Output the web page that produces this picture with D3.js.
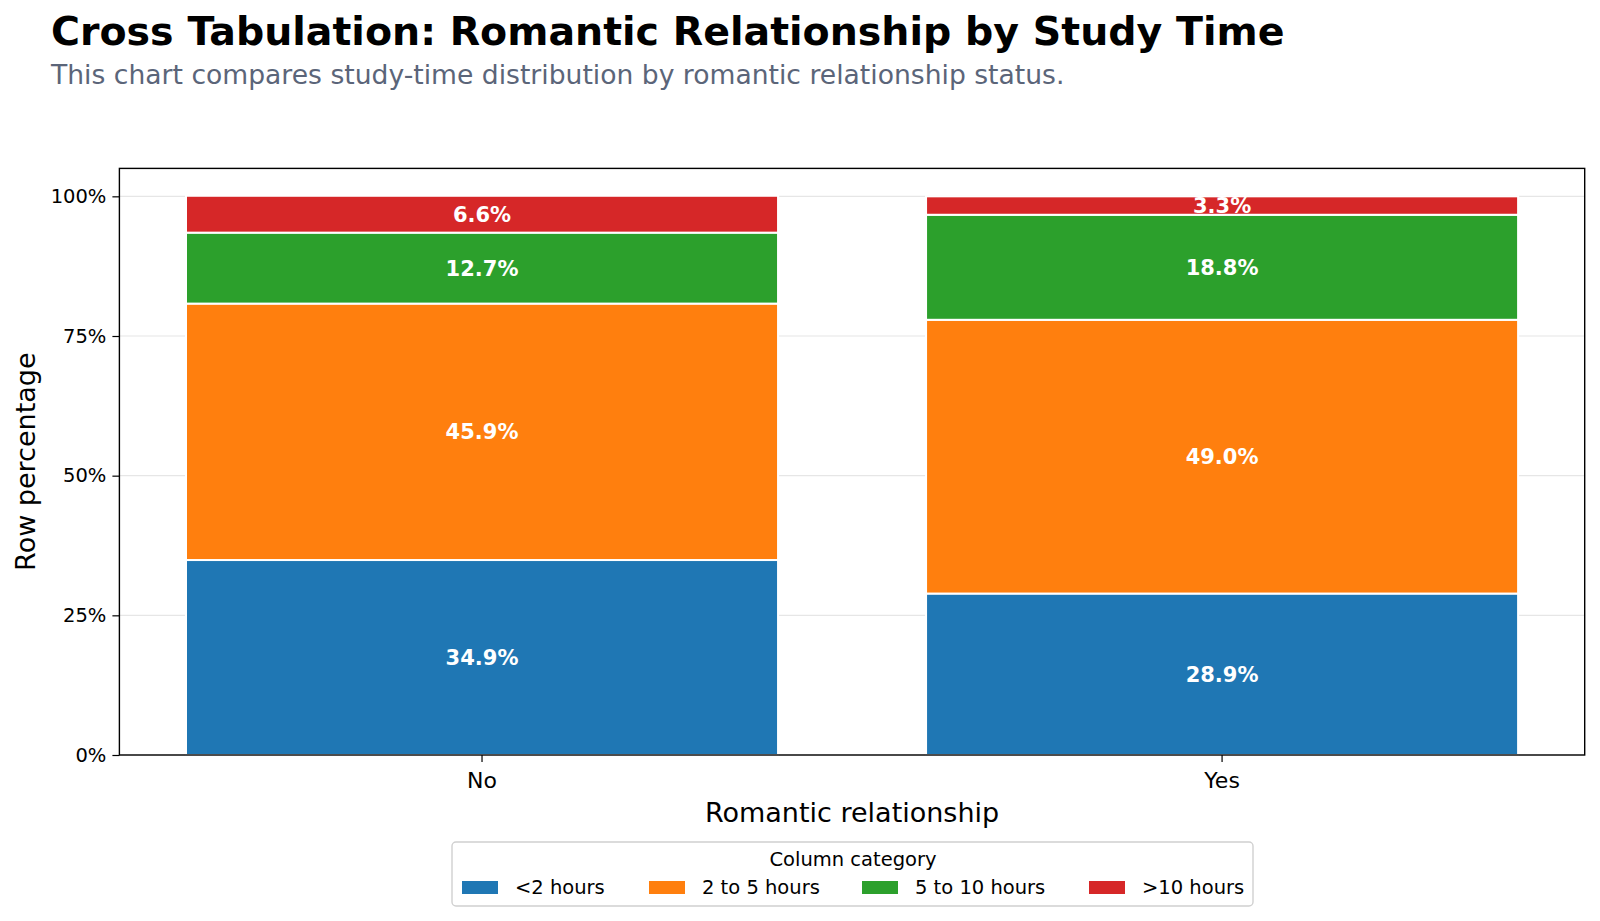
<!DOCTYPE html>
<html>
<head>
<meta charset="utf-8">
<script src="https://cdn.jsdelivr.net/npm/d3@7"></script>
<style>
  body { margin: 0; background: #fff; }
  svg text { font-family: "DejaVu Sans", sans-serif; }
</style>
</head>
<body>
<div id="chart"></div>
<script>
// data
var groups = ["No", "Yes"];
var categories = ["<2 hours", "2 to 5 hours", "5 to 10 hours", ">10 hours"];
var noValues = [34.9, 45.9, 12.7, 6.6];
var yesValues = [28.9, 49.0, 18.8, 3.3];
var colors = ["#1f77b4", "#ff7f0e", "#2ca02c", "#d62728"];
var yTicks = [0, 0.25, 0.5, 0.75, 1];

var svgWidth = 1600;
var svgHeight = 921;

var margin = { top: 168.4, right: 15.3, bottom: 166, left: 119.4 };
var width = svgWidth - margin.left - margin.right;
var height = svgHeight - margin.top - margin.bottom;

var svg = d3.select("#chart")
    .append("svg")
    .attr("width", svgWidth)
    .attr("height", svgHeight);

// build table for the stack
var rows = groups.map(function(g, i) {
    var vals = i === 0 ? noValues : yesValues;
    var row = { group: g };
    categories.forEach(function(c, j) { row[c] = vals[j] / 100; });
    return row;
});

var stacked = d3.stack().keys(categories)(rows);

// scales
var x = d3.scaleBand()
    .domain(groups)
    .range([0, width])
    .paddingInner(0.2)
    .paddingOuter(0.09);

var y = d3.scaleLinear()
    .domain([0, 1.05])
    .range([height, 0]);

var color = d3.scaleOrdinal().domain(categories).range(colors);

// title + subtitle
svg.append("text")
    .attr("x", 51)
    .attr("y", 45)
    .attr("font-size", 39.5)
    .attr("font-weight", "bold")
    .attr("fill", "#000")
    .text("Cross Tabulation: Romantic Relationship by Study Time");

svg.append("text")
    .attr("x", 51)
    .attr("y", 84)
    .attr("font-size", 26.6)
    .attr("fill", "#5b6579")
    .text("This chart compares study-time distribution by romantic relationship status.");

var chartGroup = svg.append("g")
    .attr("transform", `translate(${margin.left}, ${margin.top})`);

// grid
chartGroup.append("g")
    .selectAll("line")
    .data(yTicks)
    .enter()
    .append("line")
    .attr("x1", 0)
    .attr("x2", width)
    .attr("y1", d => y(d))
    .attr("y2", d => y(d))
    .attr("stroke", "#e6e6e6")
    .attr("stroke-width", 1.2);

// bars
var layers = chartGroup.selectAll(".layer")
    .data(stacked)
    .enter()
    .append("g")
    .attr("class", "layer")
    .attr("fill", d => color(d.key));

layers.selectAll("rect")
    .data(d => d)
    .enter()
    .append("rect")
    .attr("x", d => x(d.data.group))
    .attr("width", x.bandwidth())
    .attr("y", d => y(d[1]))
    .attr("height", d => y(d[0]) - y(d[1]))
    .attr("stroke", "#fff")
    .attr("stroke-width", 2);

// segment labels
layers.selectAll("text")
    .data(d => d)
    .enter()
    .append("text")
    .attr("x", d => x(d.data.group) + x.bandwidth() / 2)
    .attr("y", d => (y(d[0]) + y(d[1])) / 2)
    .attr("dy", "0.36em")
    .attr("text-anchor", "middle")
    .attr("font-size", 21)
    .attr("font-weight", "bold")
    .attr("fill", "#fff")
    .text(d => ((d[1] - d[0]) * 100).toFixed(1) + "%");

// axes
var leftAxis = d3.axisLeft(y).tickValues(yTicks).tickFormat(d3.format(".0%")).tickSizeOuter(0).tickSize(7).tickPadding(6);
var bottomAxis = d3.axisBottom(x).tickSizeOuter(0).tickSize(7).tickPadding(10);

var yAxisG = chartGroup.append("g").call(leftAxis);
yAxisG.selectAll("text").attr("font-size", 19.5).attr("fill", "#000");

var xAxisG = chartGroup.append("g")
    .attr("transform", `translate(0, ${height})`)
    .call(bottomAxis);
xAxisG.selectAll("text").attr("font-size", 22).attr("fill", "#000");

[yAxisG, xAxisG].forEach(function(g) {
    g.select(".domain").remove();
    g.selectAll("line").attr("stroke", "#000").attr("stroke-width", 1.2);
    g.selectAll("text").style("font-family", "DejaVu Sans, sans-serif");
});

// frame
chartGroup.append("rect")
    .attr("width", width)
    .attr("height", height)
    .attr("fill", "none")
    .attr("stroke", "#000")
    .attr("stroke-width", 1.4);

// axis titles
svg.append("text")
    .attr("transform", `translate(35, ${margin.top + height / 2}) rotate(-90)`)
    .attr("text-anchor", "middle")
    .attr("font-size", 27)
    .text("Row percentage");

svg.append("text")
    .attr("x", margin.left + width / 2)
    .attr("y", 822)
    .attr("text-anchor", "middle")
    .attr("font-size", 27)
    .text("Romantic relationship");

// legend
var legendX = [462, 649, 862, 1089];
var legend = svg.append("g");

legend.append("rect")
    .attr("x", 452)
    .attr("y", 842)
    .attr("width", 801)
    .attr("height", 64)
    .attr("rx", 4)
    .attr("fill", "#fff")
    .attr("stroke", "#d0d0d0")
    .attr("stroke-width", 1.4);

legend.append("text")
    .attr("x", 853)
    .attr("y", 866)
    .attr("text-anchor", "middle")
    .attr("font-size", 19.5)
    .text("Column category");

var items = legend.selectAll(".item")
    .data(categories)
    .enter()
    .append("g")
    .attr("class", "item")
    .attr("transform", (d, i) => `translate(${legendX[i]}, 881)`);

items.append("rect")
    .attr("width", 36)
    .attr("height", 13)
    .attr("fill", d => color(d));

items.append("text")
    .attr("x", 53)
    .attr("y", 13)
    .attr("font-size", 19.5)
    .text(d => d);
</script>
</body>
</html>
